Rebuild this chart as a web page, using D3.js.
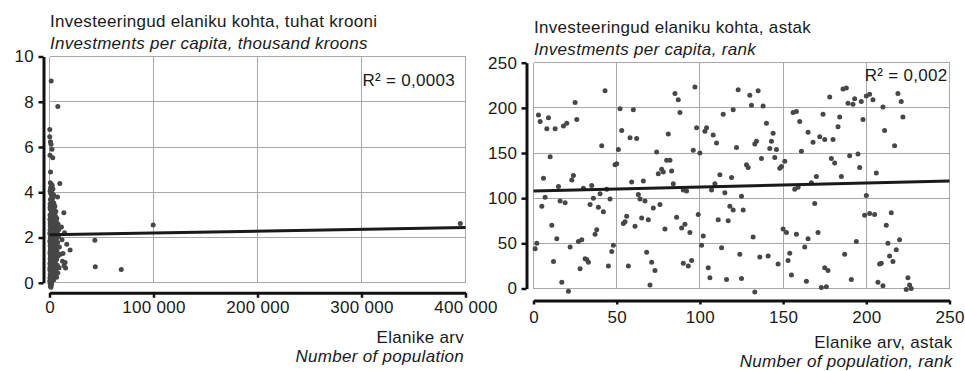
<!DOCTYPE html>
<html><head><meta charset="utf-8">
<script src="https://cdn.jsdelivr.net/npm/d3@7"></script>
<style>
html,body{margin:0;padding:0;background:#fff;}
svg{display:block;font-family:"Liberation Sans",Arial,Helvetica,sans-serif;}
</style></head><body>
<svg id="chart" width="965" height="371"></svg>
<script>
// ---- Panel 1: population vs investments per capita (thousand kroons)
const population = [
  1600, 8000, 300, 200, 900, 1500, 2300, 500, 3100, 1000, 9900,
  800, 1800, 2600, 1200, 3300, 600, 2100, 1500, 4000, 7700, 2800, 900,
  1900, 3500, 600, 2500, 5200, 1300, 4300, 800, 2900, 6100, 13800, 1700, 3800, 500, 2200, 5600, 4700,
  1100, 3200, 7000, 2600, 400, 4400, 1800, 6400, 3600, 900, 5100, 2300, 8200, 1400, 4000, 700, 11500, 3000, 6700, 2000,
  5400, 1200, 3400, 9000, 600, 2700, 4800, 1600, 7400, 14400, 3900, 300, 2400, 5900, 1000, 3100, 8600, 1900, 4500, 700, 6200,
  2800, 12000, 1300, 43600, 3600, 5000, 400, 2100, 7800, 3300, 1000, 4200, 16600, 2500, 5700, 600, 3800, 1700, 9500, 2900, 6500, 1100,
  19800, 4600, 2200, 800, 3500, 7100, 1500, 5300, 13000, 2600, 400, 4000, 10500, 1900, 6000, 3100, 900, 8100, 2400, 4800, 1300, 3700, 600, 6800, 2000,
  15000, 12500, 3300, 1000, 5500, 2700, 14000, 44000, 15500, 69000, 400, 4300, 1700, 7500, 3000, 800, 5000, 2300, 9200, 1200, 3900, 6300, 500, 2600,
  4500, 1500, 8000, 3200, 700, 5600, 2100, 1000, 3600, 6800, 400, 2400, 1300, 4100, 800, 2800, 300, 1800, 1100, 600, 2000, 900, 1400,
  1200, 2700, 4100, 600, 3400, 1900, 5300, 900, 2200, 3700, 1500, 4600, 700, 2900, 1100, 3300, 5800, 1700, 2500, 400,
  3900, 1400, 2000, 6600, 800, 3000, 1800, 4900, 1000, 2300,
  99700, 395000
];
const investment = [
  8.92, 7.79, 6.77, 6.45, 6.23, 6.12, 5.90, 5.64, 5.53, 4.90, 4.39,
  4.42, 4.35, 4.30, 4.22, 4.15, 4.05, 4.00, 3.92, 3.88, 3.79, 3.75, 3.68,
  3.60, 3.55, 3.48, 3.42, 3.38, 3.35, 3.30, 3.25, 3.20, 3.15, 3.09, 3.10, 3.05, 3.00, 2.98, 2.95, 3.02,
  2.92, 2.88, 2.85, 2.82, 2.80, 2.78, 2.75, 2.72, 2.70, 2.68, 2.65, 2.62, 2.60, 2.58, 2.55, 2.52, 2.47, 2.50, 2.48, 2.45,
  2.42, 2.40, 2.38, 2.35, 2.33, 2.30, 2.28, 2.25, 2.23, 2.21, 2.20, 2.18, 2.15, 2.12, 2.10, 2.08, 2.05, 2.03, 2.00, 1.98, 1.96,
  1.94, 1.90, 1.92, 1.88, 1.88, 1.85, 1.83, 1.80, 1.78, 1.76, 1.74, 1.72, 1.70, 1.68, 1.66, 1.64, 1.62, 1.60, 1.58, 1.55, 1.53, 1.52,
  1.45, 1.48, 1.46, 1.44, 1.42, 1.40, 1.38, 1.36, 1.30, 1.34, 1.32, 1.30, 1.26, 1.27, 1.24, 1.22, 1.20, 1.18, 1.15, 1.12, 1.10, 1.08, 1.05, 1.03, 1.00,
  0.90, 0.95, 0.97, 0.94, 0.92, 0.88, 0.75, 0.71, 0.65, 0.59, 0.85, 0.83, 0.80, 0.78, 0.76, 0.73, 0.70, 0.68, 0.66, 0.63, 0.60, 0.58, 0.55, 0.53,
  0.48, 0.46, 0.43, 0.40, 0.38, 0.35, 0.32, 0.30, 0.27, 0.25, 0.22, 0.20, 0.17, 0.14, 0.12, 0.10, 0.07, 0.05, 0.02, -0.03, -0.08, -0.15, -0.20,
  3.97, 3.71, 3.52, 3.33, 3.18, 2.99, 2.87, 2.74, 2.57, 2.39, 2.27, 2.09, 1.87, 1.69, 1.57, 1.41, 1.21, 1.07, 0.81, 0.64,
  0.44, 0.29, 0.13, 1.93, 2.63, 1.29, 0.97, 0.52, 4.12, 3.83,
  2.55, 2.62
];
const trendPopulation = [0, 400000];
const trendInvestment = [2.12, 2.44];
const popTicks = [0, 100000, 200000, 300000, 400000];
const invTicks = [0, 2, 4, 6, 8, 10];

// ---- Panel 2: population rank vs investment rank
const popRank = [
  1, 2, 3, 4, 5, 6, 7, 8, 9, 10, 11, 12, 13, 14, 15, 16, 17, 18, 19, 20,
  21, 22, 23, 24, 25, 26, 27, 28, 29, 30, 31, 32, 33, 34, 35, 36, 37, 38, 39, 40,
  41, 42, 43, 44, 45, 46, 47, 48, 49, 50, 51, 52, 53, 54, 55, 56, 57, 58, 59, 60,
  61, 62, 63, 64, 65, 66, 67, 68, 69, 70, 71, 72, 73, 74, 75, 76, 77, 78, 79, 80,
  81, 82, 83, 84, 85, 86, 87, 88, 89,
  97, 98, 96, 100, 90, 92, 99, 91, 94, 90, 93, 95,
  102, 101, 105, 106, 104, 103, 108, 110, 114, 120, 123, 130, 135, 131, 138, 140, 144, 143, 134, 133,
  142, 146, 122, 137, 145, 128, 129, 112, 119, 109, 107, 115, 125, 118, 120, 126, 111, 117, 132, 113,
  124, 136, 141, 147, 116, 125, 133, 148, 149, 151,
  156, 158, 160, 165, 168, 172, 175, 174, 178, 180, 183, 184, 186, 188, 189, 192, 193, 197, 200, 202,
  204, 198, 190, 195, 161, 179, 181, 196, 170, 167, 185, 157, 159, 169, 150, 152, 158, 165, 171, 194,
  163, 154, 153, 187, 175, 177, 155, 164, 173, 176, 191, 200, 199, 202, 205, 206,
  219, 221, 210, 222, 211, 217, 215, 212, 213, 220, 218, 214, 216, 208, 209, 225, 207, 210, 226, 224, 227
];
const invRank = [
  44, 50, 192, 185, 91, 122, 101, 177, 189, 146, 70, 30, 177, 55, 113, 97, 7, 180, 95, 183,
  -3, 46, 120, 125, 206, 187, 52, 22, 54, 111, 33, 32, 29, 93, 114, 100, 60, 65, 90, 105,
  158, 85, 219, 110, 25, 99, 41, 48, 137, 138, 154, 199, 175, 72, 74, 80, 25, 167, 118, 198,
  69, 166, 104, 99, 78, 119, 97, 40, 76, 4, 29, 89, 20, 151, 127, 93, 132, 129, 66, 142,
  171, 142, 130, 116, 216, 79, 209, 195, 67,
  223, 178, 153, 150, 109, 108, 82, 71, 62, 28, 25, 31,
  58, 48, 23, 12, 178, 174, 170, 161, 193, 198, 220, 214, 219, 203, 202, 183, 172, 163, 163, 160,
  155, 154, 156, 144, 145, 137, 134, 126, 123, 116, 109, 106, 102, 91, 87, 87, 76, 75, 57, 45,
  38, 35, 36, 27, 10, 11, -4, 133, 135, 141,
  195, 196, 185, 173, 162, 168, 165, 193, 212, 165, 179, 190, 221, 222, 205, 204, 210, 207, 213, 215,
  209, 187, 147, 149, 152, 144, 139, 134, 124, 117, 124, 110, 112, 94, 66, 62, 60, 55, 62, 52,
  46, 39, 31, 38, 23, 20, 15, 8, 1, 2, 10, 103, 81, 83, 82, 128,
  216, 207, 201, 190, 175, 158, 84, 70, 50, 54, 43, 36, 30, 27, 28, 12, 7, 3, 4, -1, 0
];
const trendRankX = [0, 250];
const trendRankY = [108, 119];
const rankTicks = [0, 50, 100, 150, 200, 250];

const svg = d3.select("#chart");
const FONT = 17;
const TRACK = "0.3px";
const spaced = d3.format(",");
const fmtThousands = v => spaced(v).replace(/,/g, "\u00a0");

function panel(o) {
  const g = svg.append("g");
  const x = d3.scaleLinear().domain(o.xDomain).range([o.left, o.right]);
  const y = d3.scaleLinear().domain(o.yDomain).range([o.bottom, o.top]);

  // plot frame and grid
  const grid = g.append("g").attr("shape-rendering", "crispEdges")
    .attr("stroke", "#a8a8a8").attr("stroke-width", 1).attr("fill", "none");
  grid.selectAll("line.v").data(o.xTicks).join("line").attr("class", "v")
    .attr("x1", d => x(d)).attr("x2", d => x(d)).attr("y1", o.top).attr("y2", o.bottom);
  grid.selectAll("line.h").data(o.yTicks).join("line").attr("class", "h")
    .attr("y1", d => y(d)).attr("y2", d => y(d)).attr("x1", o.left).attr("x2", o.right);

  // axes, set apart from the plot area
  const yAxis = d3.axisLeft(y).tickValues(o.yTicks).tickSize(5).tickSizeOuter(0)
    .tickPadding(o.yPad).tickFormat(o.yFormat);
  const ya = g.append("g").attr("transform", `translate(${o.yAxisX},0)`).call(yAxis);
  const xAxis = d3.axisBottom(x).tickValues(o.xTicks).tickSize(o.xTick).tickSizeOuter(0)
    .tickPadding(o.xPad).tickFormat(o.xFormat);
  const xa = g.append("g").attr("transform", `translate(0,${o.xAxisY})`).call(xAxis);
  [ya, xa].forEach(a => {
    a.attr("font-family", null).attr("font-size", null);
    a.select(".domain").attr("stroke", "#111").attr("stroke-width", 3);
    a.selectAll(".tick line").attr("stroke", "#111").attr("stroke-width", 2.5);
    a.selectAll(".tick text").attr("fill", "#1a1a1a")
      .style("font-size", FONT + "px").style("letter-spacing", TRACK);
  });

  // points
  g.append("g").attr("fill", "#474747").selectAll("circle")
    .data(o.xs.map((v, i) => [v, o.ys[i]])).join("circle")
    .attr("cx", d => x(d[0])).attr("cy", d => y(d[1])).attr("r", 2.5);

  // linear trend
  g.append("path")
    .datum(o.trendX.map((v, i) => [v, o.trendY[i]]))
    .attr("d", d3.line().x(d => x(d[0])).y(d => y(d[1])))
    .attr("stroke", "#1a1a1a").attr("stroke-width", 3).attr("fill", "none");

  // R² label
  g.append("text").attr("x", o.r2x).attr("y", o.r2y).attr("text-anchor", "end")
    .attr("fill", "#1a1a1a").style("font-size", FONT + "px").style("letter-spacing", TRACK)
    .text(o.r2);

  // titles
  const t = g.append("g").attr("fill", "#1a1a1a")
    .style("font-size", FONT + "px").style("letter-spacing", TRACK);
  t.append("text").attr("x", o.titleX).attr("y", o.titleY).text(o.title);
  t.append("text").attr("x", o.titleX).attr("y", o.titleY + 21.5)
    .style("font-style", "italic").text(o.subtitle);
  t.append("text").attr("x", o.xTitleX).attr("y", o.xTitleY).attr("text-anchor", "end").text(o.xTitle);
  t.append("text").attr("x", o.xTitleX).attr("y", o.xTitleY + 18.5).attr("text-anchor", "end")
    .style("font-style", "italic").text(o.xSubtitle);
}

panel({
  xs: population, ys: investment,
  xDomain: [0, 400000], yDomain: [0, 10],
  left: 49.5, right: 465.5, top: 56.5, bottom: 282.8,
  xTicks: popTicks, yTicks: invTicks,
  xFormat: fmtThousands, yFormat: d3.format("d"),
  yAxisX: 43.5, yPad: 4.5, xAxisY: 292.8, xTick: 5, xPad: 3.5,
  trendX: trendPopulation, trendY: trendInvestment,
  r2: "R\u00b2 = 0,0003", r2x: 455, r2y: 86,
  title: "Investeeringud elaniku kohta, tuhat krooni",
  subtitle: "Investments per capita, thousand kroons",
  titleX: 50, titleY: 27,
  xTitle: "Elanike arv", xSubtitle: "Number of population",
  xTitleX: 464, xTitleY: 343
});

panel({
  xs: popRank, ys: invRank,
  xDomain: [0, 250], yDomain: [0, 250],
  left: 533.5, right: 949.5, top: 62.7, bottom: 288.5,
  xTicks: rankTicks, yTicks: rankTicks,
  xFormat: d3.format("d"), yFormat: d3.format("d"),
  yAxisX: 526.5, yPad: 4.2, xAxisY: 300.5, xTick: 4, xPad: 6.7,
  trendX: trendRankX, trendY: trendRankY,
  r2: "R\u00b2 = 0,002", r2x: 947.5, r2y: 80.7,
  title: "Investeeringud elaniku kohta, astak",
  subtitle: "Investments per capita, rank",
  titleX: 534, titleY: 33,
  xTitle: "Elanike arv, astak", xSubtitle: "Number of population, rank",
  xTitleX: 952.5, xTitleY: 348
});
</script>
</body></html>
